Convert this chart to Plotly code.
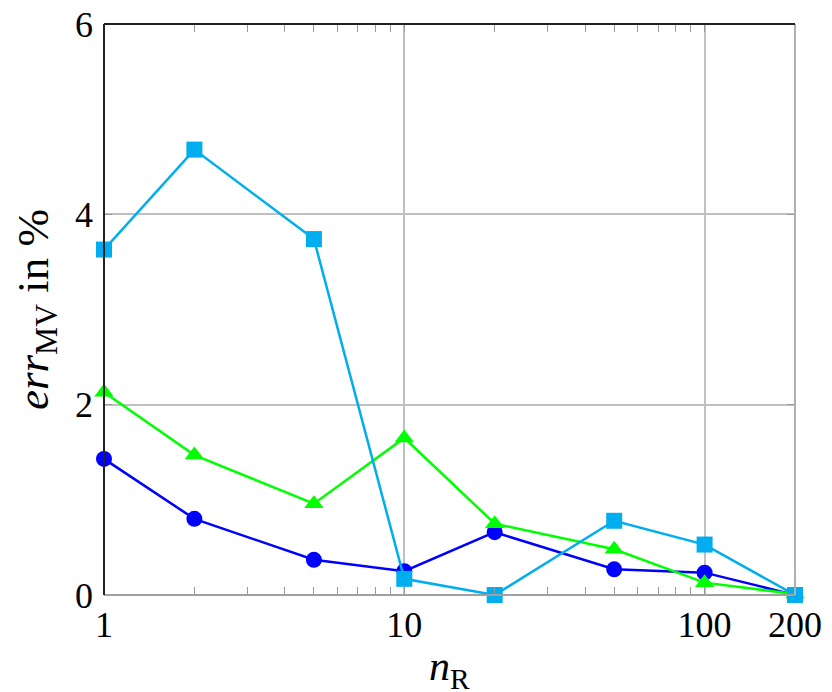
import plotly.graph_objects as go

# sample counts n_R
n_r = [1, 2, 5, 10, 20, 50, 100, 200]

# err_MV in % per series
err_circle = [1.43, 0.80, 0.37, 0.25, 0.66, 0.27, 0.235, 0.0]
err_triangle = [2.13, 1.47, 0.96, 1.65, 0.75, 0.48, 0.13, 0.01]
err_square = [3.63, 4.68, 3.74, 0.17, 0.0, 0.78, 0.53, 0.0]

x_ticks = [1, 10, 100, 200]
x_minor = [2, 3, 4, 5, 6, 7, 8, 9, 20, 30, 40, 50, 60, 70, 80, 90]
y_ticks = [0, 2, 4, 6]

FONT = "Liberation Serif"
GRID = "#c0c0c0"

fig = go.Figure()
series = [
    (err_circle, "#0000ff", "circle", 16),
    (err_triangle, "#00ff00", "triangle-up", 17),
    (err_square, "#00aeef", "square", 16),
]
for vals, color, symbol, size in series:
    fig.add_trace(go.Scatter(
        x=n_r, y=vals,
        mode="lines+markers",
        line=dict(color=color, width=2.5),
        marker=dict(symbol=symbol, size=size, color=color, line=dict(width=0)),
        showlegend=False,
        cliponaxis=False,
    ))

# page body has an 8px margin, so the figure is 8px smaller and offset
fig.update_layout(
    width=824, height=684,
    paper_bgcolor="white", plot_bgcolor="white",
    margin=dict(l=96, r=37, t=16, b=97),
    font=dict(family=FONT, size=36, color="black"),
    xaxis=dict(
        type="log", range=[0, 2.30103], automargin=False,
        tickvals=x_ticks, ticktext=[str(v) for v in x_ticks],
        showgrid=True, gridcolor=GRID, gridwidth=1.5,
        ticks="inside", ticklen=8, tickcolor="#999999",
        ticklabelstandoff=5, ticklabeloverflow="allow",
        mirror="ticks", showline=False, zeroline=False,
        minor=dict(tickvals=x_minor, ticks="inside", ticklen=8,
                   tickcolor="#999999", showgrid=False),
    ),
    yaxis=dict(
        range=[0, 6], tickvals=y_ticks, automargin=False,
        showgrid=True, gridcolor=GRID, gridwidth=1.5,
        ticks="inside", ticklen=8, tickcolor="#999999",
        ticklabelstandoff=10, ticklabeloverflow="allow",
        mirror="ticks", showline=False, zeroline=False,
        title=dict(text="<i>err</i><sub>MV</sub> in %", font=dict(size=45), standoff=14),
    ),
    annotations=[
        dict(text="<i>n</i><sub>R</sub>", xref="paper", yref="paper",
             x=0.5, y=-0.13, xanchor="center", yanchor="middle",
             showarrow=False, font=dict(size=42)),
    ],
    shapes=[
        dict(type="line", xref="paper", yref="paper", x0=0, x1=1, y0=0, y1=0,
             line=dict(color="#a0a0a0", width=2)),
        dict(type="line", xref="paper", yref="paper", x0=1, x1=1, y0=0, y1=1,
             line=dict(color="#b0b0b0", width=2)),
        dict(type="line", xref="paper", yref="paper", x0=0, x1=1, y0=1, y1=1,
             line=dict(color="#222222", width=2)),
        dict(type="line", xref="paper", yref="paper", x0=0, x1=0, y0=0, y1=1,
             line=dict(color="#222222", width=2)),
    ],
)

fig.write_html("out.html")
